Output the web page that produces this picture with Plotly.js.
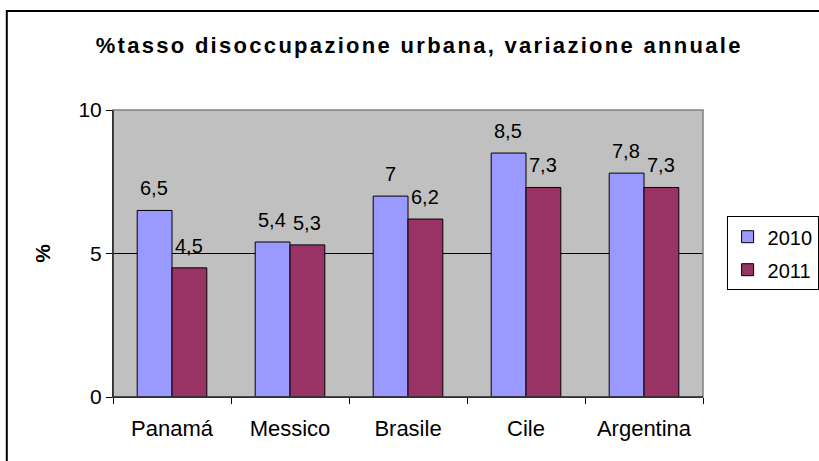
<!DOCTYPE html>
<html>
<head>
<meta charset="utf-8">
<script src="https://cdn.plot.ly/plotly-3.0.1.min.js"></script>
<style>html,body{margin:0;padding:0;background:#fff;}#chart{width:819px;height:461px;}
.gtitle{letter-spacing:2.3px;}</style>
</head>
<body>
<div id="chart"></div>
<script>
const categories = ["Panamá", "Messico", "Brasile", "Cile", "Argentina"];
const values2010 = [6.5, 5.4, 7.0, 8.5, 7.8];
const values2011 = [4.5, 5.3, 6.2, 7.3, 7.3];
const seriesNames = ["2010", "2011"];
const yTicks = [0, 5, 10];

const fmt = v => String(v).replace(".", ",");
const font = "Liberation Sans, Arial, sans-serif";

const traces = [
  {type: "bar", name: seriesNames[0], x: categories, y: values2010, legendgroup: "a",
   marker: {color: "#9999FF", line: {color: "#000", width: 1}}},
  {type: "bar", name: seriesNames[1], x: categories, y: values2011, legendgroup: "b",
   marker: {color: "#993366", line: {color: "#000", width: 1}}}
];

const annotations = [];
[values2010, values2011].forEach((vals, si) => {
  vals.forEach((v, i) => {
    annotations.push({x: categories[i], y: v, xref: "x", yref: "y",
      text: fmt(v), showarrow: false, yanchor: "bottom",
      xshift: si === 0 ? -18 : 17, yshift: 9,
      font: {family: font, size: 20, color: "#000"}});
  });
});

const layout = {
  width: 819, height: 461,
  margin: {l: 113, r: 116, t: 110, b: 64, autoexpand: false},
  paper_bgcolor: "#fff", plot_bgcolor: "#C0C0C0",
  title: {text: "<b>%tasso disoccupazione urbana, variazione annuale</b>",
    x: 0.519, xref: "paper", xanchor: "center", y: 0.902, yanchor: "middle",
    font: {family: font, size: 22, color: "#000"}},
  barmode: "group", bargap: 0.41, bargroupgap: 0,
  xaxis: {showline: true, linecolor: "#000", linewidth: 1, ticks: "outside",
    tickson: "boundaries", ticklen: 6, tickcolor: "#000", ticklabelstandoff: 12,
    tickfont: {family: font, size: 22, color: "#000"}, fixedrange: true},
  yaxis: {range: [0, 10], tickvals: yTicks, ticktext: yTicks.map(String),
    showline: true, linecolor: "#000", linewidth: 1, ticks: "outside", ticklen: 6,
    tickcolor: "#000", showgrid: true, gridcolor: "#000", gridwidth: 1, zeroline: false,
    tickfont: {family: font, size: 21, color: "#000"},
    title: {text: "<b>%</b>", standoff: 22, font: {family: font, size: 21, color: "#000"}}},
  legend: {x: 1.04, y: 0.63, xanchor: "left", yanchor: "top",
    bordercolor: "#000", borderwidth: 1, bgcolor: "#fff",
    font: {family: font, size: 20, color: "#000"}, tracegroupgap: 4,
    itemwidth: 30},
  shapes: [
    {type: "rect", xref: "paper", yref: "paper", x0: 0, x1: 1, y0: 0, y1: 1,
     line: {color: "#808080", width: 1.5}, layer: "above"},
    {type: "line", xref: "paper", yref: "paper", x0: 0, x1: 0, y0: 0, y1: 1,
     line: {color: "#000", width: 1}, layer: "above"},
    {type: "line", xref: "paper", yref: "paper", x0: 0, x1: 1, y0: 0, y1: 0,
     line: {color: "#000", width: 1}, layer: "above"},
    {type: "rect", xref: "paper", yref: "paper", x0: -0.180, x1: 1.25, y0: -0.3, y1: 1.345,
     line: {color: "#000", width: 2}, fillcolor: "rgba(0,0,0,0)"}
  ],
  annotations: annotations,
  showlegend: true
};

Plotly.newPlot("chart", traces, layout, {displayModeBar: false, staticPlot: true});
</script>
</body>
</html>
